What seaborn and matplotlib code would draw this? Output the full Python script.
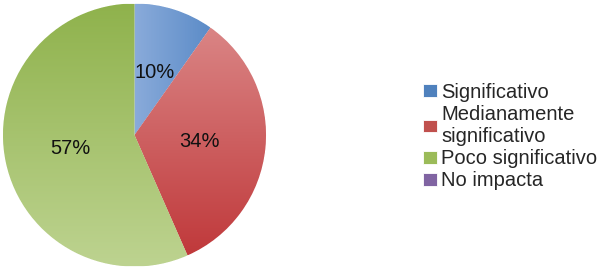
import matplotlib
matplotlib.use("Agg")
import matplotlib.pyplot as plt
import seaborn as sns
import numpy as np
from matplotlib.colors import LinearSegmentedColormap

# data
categories = ["Significativo", "Medianamente\nsignificativo", "Poco significativo", "No impacta"]
shares = [9.8, 33.6, 56.6, 0.0]

# base colours (legend) and gradient ends (light, dark) per slice
base_colors = ["#4f81bd", "#c0504d", "#9bbb59", "#8064a2"]
grad_colors = [("#8aabda", "#5c8cc8"), ("#da8585", "#c0393b"), ("#8fb24c", "#bdd390"), ("#9a85bb", "#7059a0")]
grad_dir = ["h", "v", "v", "v"]

sns.set_theme(style="white")
plt.rcParams['font.family'] = ['Liberation Sans', 'DejaVu Sans']

fig = plt.figure(figsize=(6.02, 2.76), dpi=100)
ax = fig.add_axes([3 / 602, 9 / 276, 263 / 602, 264 / 276])

def pct_label(p):
    return f"{p:.0f}%" if p > 0 else ""

wedges, texts, autotexts = ax.pie(shares, colors=base_colors, startangle=90, counterclock=False,
                                  autopct=pct_label, pctdistance=0.5,
                                  wedgeprops=dict(linewidth=0.6, edgecolor="white"),
                                  textprops=dict(fontsize=14.5, color="#111111"))

# gradient fill clipped to each wedge, like the spreadsheet original
for w, (c1, c2), d, s in zip(wedges, grad_colors, grad_dir, shares):
    if s <= 0:
        continue
    bb = w.get_path().get_extents(w.get_patch_transform())
    cmap = LinearSegmentedColormap.from_list("g", [c1, c2])
    if d == "h":
        grad = np.linspace(0, 1, 256).reshape(1, -1)
    else:
        grad = np.linspace(0, 1, 256).reshape(-1, 1)
    im = ax.imshow(grad, cmap=cmap, extent=[bb.x0, bb.x1, bb.y0, bb.y1], origin="upper",
                   aspect="auto", zorder=w.get_zorder() + 0.5, interpolation="bicubic")
    im.set_clip_path(w)

for t in autotexts:
    t.set_zorder(10)

ax.set_xlim(-1.0, 1.0)
ax.set_ylim(-1.0, 1.0)
ax.set_aspect("equal")
ax.axis("off")

leg = fig.legend(wedges, categories, loc="center left", bbox_to_anchor=(423 / 602, 0.505),
                 frameon=False, fontsize=14.5, handlelength=0.7, handleheight=0.6,
                 handletextpad=0.2, labelspacing=0.16, borderpad=0, borderaxespad=0)
for t in leg.get_texts():
    t.set_linespacing(1.2)

fig.savefig("out.png", dpi=100)
